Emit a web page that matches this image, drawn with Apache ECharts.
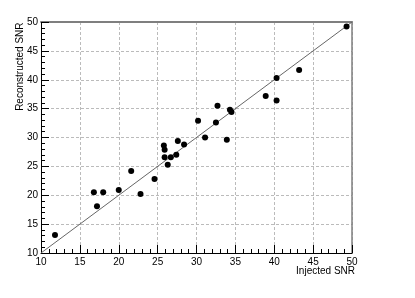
<!DOCTYPE html>
<html>
<head>
<meta charset="utf-8">
<script src="https://cdn.jsdelivr.net/npm/echarts@6/dist/echarts.min.js"></script>
<style>
html,body{margin:0;padding:0;background:#fff;}
#chart{width:415px;height:298px;}
</style>
</head>
<body>
<div id="chart"></div>
<script>
var injectedSNR = [11.8, 16.8, 17.2, 18.0, 20.0, 21.6, 22.8, 24.6, 25.8, 25.9, 25.9, 26.3, 26.7, 27.4, 27.6, 28.4, 30.2, 31.1, 32.5, 32.7, 33.9, 34.3, 34.5, 38.9, 40.3, 40.3, 43.2, 49.3];
var reconstructedSNR = [13.1, 20.5, 18.1, 20.5, 20.9, 24.2, 20.2, 22.8, 28.6, 27.9, 26.6, 25.3, 26.6, 27.0, 29.4, 28.8, 32.9, 30.0, 32.6, 35.5, 29.6, 34.8, 34.4, 37.2, 40.3, 36.4, 41.7, 49.2];
var diagonalX = [10, 50];
var diagonalY = [10, 50];
var axisRange = [10, 50];
var tickStep = 5;
var xTitle = 'Injected SNR';
var yTitle = 'Reconstructed SNR';

var points = injectedSNR.map(function (x, i) { return [x, reconstructedSNR[i]]; });
var diag = diagonalX.map(function (x, i) { return [x, diagonalY[i]]; });

var chart = echarts.init(document.getElementById('chart'), null, {renderer: 'canvas'});
var font = 'Liberation Sans, Arial, Helvetica, sans-serif';

function mainAxis(pos) {
  return {
    type: 'value', position: pos, min: axisRange[0], max: axisRange[1], interval: tickStep,
    axisLine: {show: true, onZero: false, lineStyle: {color: '#000', width: 1}},
    axisTick: {show: true, inside: true, length: 8, lineStyle: {color: '#000', width: 1}},
    minorTick: {show: true, splitNumber: 5, length: 4, lineStyle: {color: '#000', width: 1}},
    splitLine: {show: true, lineStyle: {color: '#bbb', width: 1, type: [3, 2]}},
    axisLabel: {show: true, fontSize: 10, fontFamily: font, color: '#000', margin: pos === 'left' ? 3 : 4,
      showMinLabel: true, showMaxLabel: true}
  };
}
function frameAxis(pos, w) {
  return {
    type: 'value', position: pos, min: axisRange[0], max: axisRange[1], interval: tickStep,
    axisLine: {show: true, onZero: false, lineStyle: {color: '#7f7f7f', width: w}},
    axisTick: {show: false}, minorTick: {show: false},
    splitLine: {show: false}, axisLabel: {show: false}
  };
}

chart.setOption({
  animation: false,
  backgroundColor: '#fff',
  grid: {left: 41, right: 63, top: 22, bottom: 45, containLabel: false},
  xAxis: [mainAxis('bottom'), frameAxis('top', 2)],
  yAxis: [mainAxis('left'), frameAxis('right', 1.5)],
  graphic: [
    {type: 'text', right: 415 - 355, top: 266, style: {text: xTitle, fontSize: 10, fontFamily: font, fill: '#000'}},
    {type: 'text', x: 20.5, y: 22.5, rotation: Math.PI / 2,
      style: {text: yTitle, fontSize: 10, fontFamily: font, fill: '#000', align: 'right', verticalAlign: 'middle'}}
  ],
  series: [
    {type: 'line', data: diag, symbol: 'none', lineStyle: {color: '#666', width: 1}, silent: true, z: 2},
    {type: 'scatter', data: points, symbol: 'circle', symbolSize: 6, itemStyle: {color: '#000', opacity: 1}, z: 3}
  ]
});
</script>
</body>
</html>
